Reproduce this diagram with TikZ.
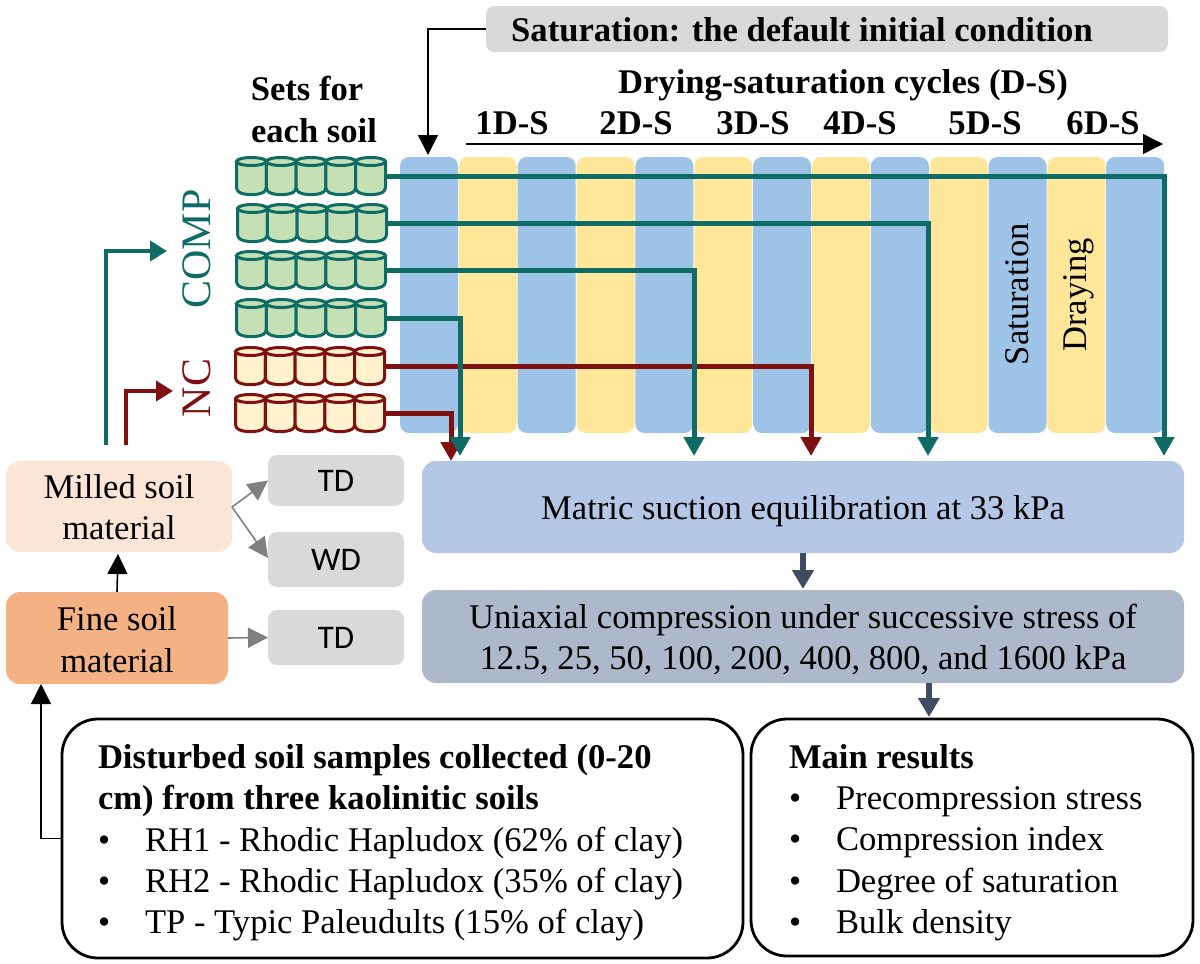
\documentclass[tikz,border=0pt]{standalone}
\usepackage{fontspec}
\setmainfont{Liberation Serif}
\newfontfamily\calfont{Carlito}
\usetikzlibrary{arrows.meta}
\definecolor{stripblue}{HTML}{9DC3E6}
\definecolor{stripyellow}{HTML}{FFE699}
\definecolor{tealc}{HTML}{0F6B66}
\definecolor{redc}{HTML}{7F1010}
\definecolor{compfill}{HTML}{C5E0B4}
\definecolor{ncfill}{HTML}{FFF2CC}
\definecolor{darkarrow}{HTML}{3F4C61}
\newcommand{\fs}[1]{\fontsize{#1}{#1}\selectfont}
\tikzset{
  x=1pt,y=-1pt,
  box/.style={rectangle,rounded corners=#1,inner sep=0pt,outer sep=0pt,align=center},
  box/.default=12pt,
  strip/.style={rectangle,rounded corners=9pt,inner sep=0pt,outer sep=0pt,minimum width=58pt,minimum height=276pt},
  grey/.style={box=9pt,fill=black!15,minimum width=136pt,font=\calfont\fs{33}},
  lab/.style={inner sep=0pt,outer sep=0pt,font=\fs{34.6}},
  blab/.style={inner sep=0pt,outer sep=0pt,font=\bfseries\fs{34.6}},
  clab/.style={lab,anchor=base},
  cblab/.style={blab,anchor=base},
  roundbox/.style={rectangle,rounded corners=36pt,draw=black,line width=2.8pt,fill=white,inner sep=0pt,outer sep=0pt},
  rowbox/.style={rectangle,inner sep=0pt,outer sep=0pt,minimum width=149pt,minimum height=39pt},
  tealarrow/.style={draw=tealc,line width=5pt,-{Triangle[length=19pt,width=20pt]}},
  redarrow/.style={draw=redc,line width=5pt,-{Triangle[length=19pt,width=20pt]}},
  thinarrow/.style={draw=black,line width=1.4pt,-{Triangle[length=20pt,width=20pt]}},
  greyarrow/.style={draw=black!50,line width=1.6pt,-{Triangle[length=20pt,width=20pt]}},
  darkar/.style={draw=darkarrow,line width=6pt,-{Triangle[length=19pt,width=21pt]}},
}
\newcommand{\cylrow}[3]{%
  \foreach \k in {0,...,4}{
    \pgfmathsetmacro{\cx}{#1-59.6+29.8*\k}
    \filldraw[draw=#3,fill=#2,line width=3pt,rounded corners=3pt]
      (\cx-14.9,\cyA-14.5) -- (\cx-14.9,\cyA+14.5) .. controls (\cx-7,\cyA+19.5) and (\cx+7,\cyA+19.5) .. (\cx+14.9,\cyA+14.5) -- (\cx+14.9,\cyA-14.5);
    \filldraw[draw=#3,fill=#2,line width=3pt] (\cx,\cyA-14.5) ellipse [x radius=14.9pt,y radius=4pt];
  }
}
\begin{document}
\begin{tikzpicture}
\useasboundingbox (0,0) rectangle (1200,964);
\fill[white] (0,0) rectangle (1200,964);
% strips
\foreach \k in {0,2,...,12}{
  \node[strip,fill=stripblue] (s\k) at ({429+58.85*\k},295) {};
}
\foreach \k in {1,3,...,11}{
  \node[strip,fill=stripyellow] (s\k) at ({429+58.85*\k},295) {};
}
\node[lab,rotate=90] (sat) at (1017,294) {Saturation};
\node[lab,rotate=90] (dry) at (1079,295) {Draying};
% top
\node[box=8pt,fill=black!15,minimum width=682pt,minimum height=46pt] (satbox) at (827,29) {};
\node[cblab] (sattxt) at (802,41) {Saturation: the default initial condition};
\coordinate (satend) at (428,155);
\draw[thinarrow] (satbox.west) -| (satend);
\node[cblab] (cyc) at (843,93) {Drying-saturation cycles (D-S)};
\node[cblab] (c1) at (512,134) {1D-S};
\node[cblab] (c2) at (636,134) {2D-S};
\node[cblab] (c3) at (753,134) {3D-S};
\node[cblab] (c4) at (860,134) {4D-S};
\node[cblab] (c5) at (985,134) {5D-S};
\node[cblab] (c6) at (1103,134) {6D-S};
\coordinate (cyA) at (466,144);
\coordinate (cyB) at (1163,144);
\draw[thinarrow] (cyA) -- (cyB);
\node[cblab] (sets1) at (307,100) {Sets for};
\node[cblab] (sets2) at (314,142) {each soil};
% cylinders
\foreach \nm/\yy/\xx/\fc/\dc in {r1/176/311/compfill/tealc,r2/223/312/compfill/tealc,r3/270/311/compfill/tealc,r4/318/311/compfill/tealc,r5/366/310/ncfill/redc,r6/413/310/ncfill/redc}{
  \node[rowbox] (\nm) at (\xx,\yy) {};
  \def\cyA{\yy}
  \cylrow{\xx}{\fc}{\dc}
}
% main boxes
\node[box=14pt,minimum width=762pt,minimum height=92pt,fill={rgb,255:red,180;green,199;blue,231}] (matric) at (803,507) {};
\node[clab] (matrict) at (803,519) {Matric suction equilibration at 33 kPa};
\node[box=14pt,fill={rgb,255:red,173;green,185;blue,202},minimum width=762pt,minimum height=93pt] (uni) at (803,636.5) {};
\node[clab] (uni1) at (803,628) {Uniaxial compression under successive stress of};
\node[clab] (uni2) at (803,669) {12.5, 25, 50, 100, 200, 400, 800, and 1600 kPa};
% connectors
\coordinate (t1) at (1164,456);
\coordinate (t2) at (928,456);
\coordinate (t3) at (694,456);
\coordinate (t4) at (460,456);
\coordinate (t5) at (811,456);
\coordinate (t6) at (451,461);
\draw[redarrow] (r5.east) -| (t5);
\draw[redarrow] (r6.east) -| (t6);
\draw[tealarrow] (r1.east) -| (t1);
\draw[tealarrow] (r2.east) -| (t2);
\draw[tealarrow] (r3.east) -| (t3);
\draw[tealarrow] (r4.east) -| (t4);
\coordinate (mabot) at (803,553);
\coordinate (unitop) at (803,589);
\draw[darkar] (mabot) -- (unitop);
% left boxes
\node[box=14pt,fill={rgb,255:red,251;green,229;blue,214},minimum width=226pt,minimum height=91pt] (milled) at (119,506.5) {};
\node[clab] (m1) at (119,498) {Milled soil};
\node[clab] (m2) at (119,539) {material};
\node[box=14pt,fill={rgb,255:red,244;green,177;blue,131},minimum width=222pt,minimum height=92pt] (fine) at (117,638) {};
\node[clab] (f1) at (117,630) {Fine soil};
\node[clab] (f2) at (117,672) {material};
\node[grey,minimum height=51pt] (td1) at (336,480.5) {TD};
\node[grey,minimum height=55pt] (wd) at (336,559.5) {WD};
\node[grey,minimum height=55pt] (td2) at (336,637.5) {TD};
\coordinate (mfork) at (232,507);
\coordinate (wdin) at (268,558);
\draw[greyarrow] (mfork) -- (td1.west);
\draw[greyarrow] (mfork) -- (wdin);
\draw[greyarrow] (fine.east) -- (td2.west);
\coordinate (finetop) at (117,592);
\coordinate (millbot) at (118,554);
\draw[draw=black,line width=1.6pt,-{Triangle[length=20pt,width=20pt]}] (finetop) -- (millbot);
% COMP / NC
\node[lab,rotate=90,text=tealc,font=\fs{42}] (comp) at (197,249) {COMP};
\node[lab,rotate=90,text=redc,font=\fs{42}] (nc) at (197,388) {NC};
\coordinate (cA) at (106,445);
\coordinate (cB) at (167,251);
\coordinate (nA) at (126,445);
\coordinate (nB) at (173,391);
\draw[draw=tealc,line width=4pt,-{Triangle[length=17pt,width=20pt]}] (cA) |- (cB);
\draw[draw=redc,line width=4pt,-{Triangle[length=17pt,width=20pt]}] (nA) |- (nB);
% bottom boxes
\node[roundbox,minimum width=681pt,minimum height=239pt] (soil) at (402.5,838.5) {};
\node[roundbox,minimum width=442pt,minimum height=237pt] (res) at (972,837.5) {};
\coordinate (up) at (41,684);
\draw[thinarrow] (soil.west) -| (up);
\coordinate (resin) at (929,717);
\coordinate (unibot) at (929,683);
\draw[darkar] (unibot) -- (resin);
\node[blab,anchor=base west] (h1) at (98,768) {Disturbed soil samples collected (0-20};
\node[blab,anchor=base west] (h2) at (98,809) {cm) from three kaolinitic soils};
\foreach \nm/\yy/\tx in {a1/851/RH1 - Rhodic Hapludox (62\% of clay),a2/892/RH2 - Rhodic Hapludox (35\% of clay),a3/933/TP - Typic Paleudults (15\% of clay)}{
  \node[lab,anchor=base west] (\nm) at (145,\yy) {\tx};
  \node[lab,anchor=base west] (\nm b) at (98,\yy) {•};
}
\node[blab,anchor=base west] (h3) at (789,768) {Main results};
\foreach \nm/\yy/\tx in {b1/809/Precompression stress,b2/850/Compression index,b3/892/Degree of saturation,b4/933/Bulk density}{
  \node[lab,anchor=base west] (\nm) at (836,\yy) {\tx};
  \node[lab,anchor=base west] (\nm b) at (789,\yy) {•};
}
\end{tikzpicture}
\end{document}
